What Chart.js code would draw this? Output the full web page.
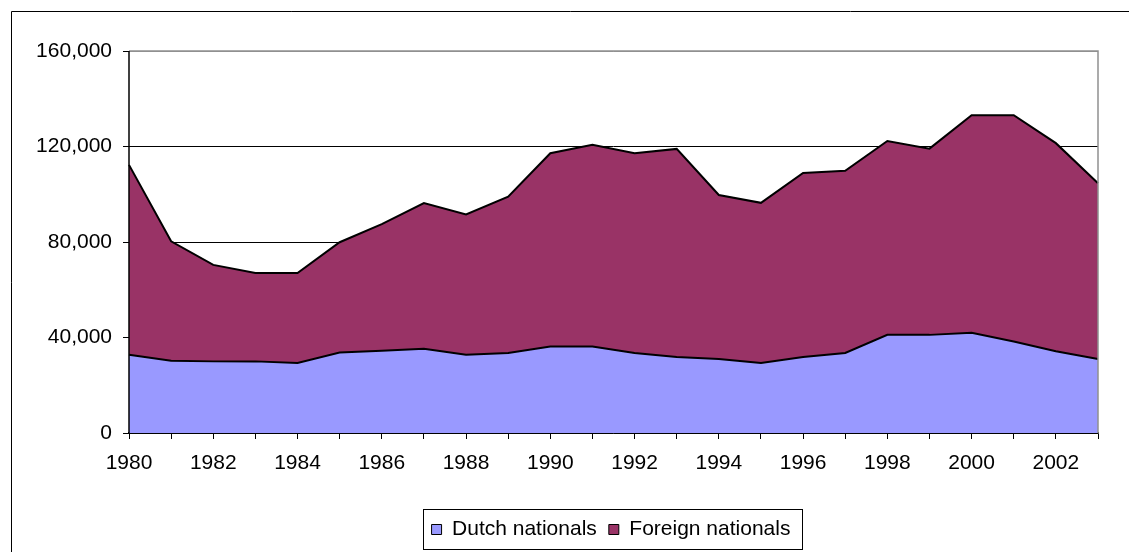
<!DOCTYPE html>
<html>
<head>
<meta charset="utf-8">
<script src="https://cdn.jsdelivr.net/npm/chart.js@4/dist/chart.umd.min.js"></script>
<style>
html,body{margin:0;padding:0;background:#fff;overflow:hidden;}
canvas{display:block;}
</style>
</head>
<body>
<canvas id="c" width="1129" height="552"></canvas>
<script>
const years = ['1980','1981','1982','1983','1984','1985','1986','1987','1988','1989','1990','1991',
  '1992','1993','1994','1995','1996','1997','1998','1999','2000','2001','2002','2003'];
const dutchNationals = [32800,30300,30000,30000,29300,33700,34400,35300,32800,33500,36200,36200,
  33500,31800,31000,29300,31800,33500,41100,41100,42000,38300,34200,31000];
const foreignNationals = [79500,50000,40400,37000,37700,46200,53100,61000,58700,65500,81000,84500,
  83700,87200,68700,67100,77100,76300,81200,78000,91100,94800,87200,73600];
const yTicks = [0,40000,80000,120000,160000];
const seriesNames = ['Dutch nationals','Foreign nationals'];

const FONT = "'Liberation Sans', Arial, sans-serif";
const LEGEND_SHIFT = 62;

const framePlugin = {
  id: 'frame',
  afterLayout(chart) {
    const lg = chart.legend;
    if (lg) { lg.left += LEGEND_SHIFT; lg.right += LEGEND_SHIFT; }
  },
  beforeDraw(chart) {
    const ctx = chart.ctx;
    ctx.save();
    ctx.fillStyle = '#fff';
    ctx.fillRect(0, 0, chart.width, chart.height);
    ctx.strokeStyle = '#000';
    ctx.lineWidth = 1;
    ctx.beginPath();
    ctx.moveTo(11.5, chart.height + 5);
    ctx.lineTo(11.5, 11.5);
    ctx.lineTo(chart.width + 5, 11.5);
    ctx.stroke();
    ctx.restore();
  },
  afterDatasetsDraw(chart) {
    const a = chart.chartArea;
    const ctx = chart.ctx;
    ctx.save();
    ctx.strokeStyle = '#909090';
    ctx.lineWidth = 1.5;
    ctx.beginPath();
    ctx.moveTo(a.left, a.top);
    ctx.lineTo(a.right, a.top);
    ctx.lineTo(a.right, a.bottom);
    ctx.stroke();
    ctx.strokeStyle = '#000';
    ctx.beginPath();
    ctx.moveTo(a.left, a.top);
    ctx.lineTo(a.left, a.bottom);
    ctx.stroke();
    ctx.restore();
  },
  afterDraw(chart) {
    const lg = chart.legend;
    if (!lg) return;
    const ctx = chart.ctx;
    const lo = lg.options.labels;
    const fs = lo.font.size;
    ctx.save();
    ctx.font = fs + 'px ' + FONT;
    let total = 0;
    seriesNames.forEach((t, i) => {
      total += lo.boxWidth + fs / 2 + ctx.measureText(t).width;
      if (i > 0) total += lo.padding;
    });
    const cx = (lg.left + lg.right) / 2;
    const x0 = cx - total / 2;
    ctx.strokeStyle = '#000';
    ctx.lineWidth = 1;
    ctx.strokeRect(Math.round(x0 - 9) + 0.5, Math.round(lg.top + 2) + 0.5, Math.round(total + 20), 40);
    ctx.restore();
  }
};

new Chart(document.getElementById('c'), {
  type: 'line',
  data: {
    labels: years,
    datasets: [
      {
        label: seriesNames[0],
        data: dutchNationals,
        backgroundColor: '#9999FF',
        borderColor: '#000',
        borderWidth: 2,
        fill: 'origin',
        pointRadius: 0,
        tension: 0
      },
      {
        label: seriesNames[1],
        data: foreignNationals,
        backgroundColor: '#993366',
        borderColor: '#000',
        borderWidth: 2,
        fill: '-1',
        pointRadius: 0,
        tension: 0
      }
    ]
  },
  options: {
    responsive: false,
    animation: false,
    devicePixelRatio: 1,
    layout: { padding: { top: 51, right: 31, bottom: 2, left: 0 } },
    plugins: {
      tooltip: { enabled: false },
      legend: {
        position: 'bottom',
        labels: {
          font: { family: FONT, size: 21 },
          color: '#000',
          boxWidth: 10,
          boxHeight: 10,
          padding: 12,
          generateLabels(chart) {
            return chart.data.datasets.map((d, i) => ({
              text: d.label,
              fillStyle: d.backgroundColor,
              strokeStyle: '#000',
              lineWidth: 1,
              hidden: false,
              datasetIndex: i
            }));
          }
        }
      }
    },
    scales: {
      x: {
        type: 'category',
        offset: false,
        afterFit(s) { s.height = 74; },
        grid: { drawOnChartArea: false, drawTicks: true, tickLength: 6, tickColor: '#000', color: '#000' },
        border: { color: '#000', width: 1.5 },
        ticks: {
          autoSkip: false,
          maxRotation: 0,
          padding: 12,
          color: '#000',
          font: { family: FONT, size: 21 },
          callback(v, i) { return i % 2 === 0 ? years[i] : ''; }
        }
      },
      y: {
        stacked: true,
        min: yTicks[0],
        max: yTicks[yTicks.length - 1],
        afterFit(s) { s.width = 129; },
        afterBuildTicks(s) { s.ticks = yTicks.map(v => ({ value: v })); },
        grid: {
          color(ctx) { return ctx.tick && ctx.tick.value === 160000 ? '#909090' : '#000'; },
          tickColor: '#000',
          tickLength: 6,
          lineWidth: 1
        },
        border: { display: false },
        ticks: {
          padding: 11,
          color: '#000',
          font: { family: FONT, size: 21 },
          callback(v) { return Number(v).toLocaleString('en-US'); }
        }
      }
    }
  },
  plugins: [framePlugin]
});
</script>
</body>
</html>
